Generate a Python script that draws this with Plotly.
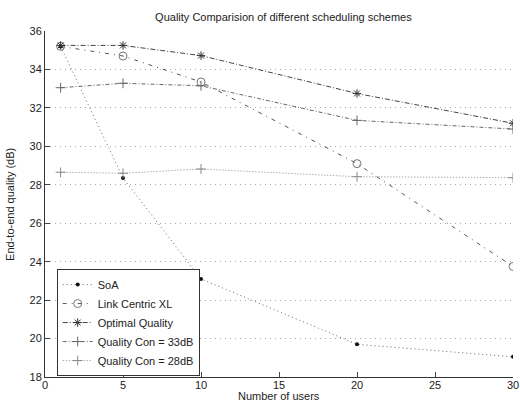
import plotly.graph_objects as go

users = [1, 5, 10, 20, 30]
soa = [35.2, 28.35, 23.1, 19.7, 19.05]
link_centric = [35.2, 34.7, 33.35, 29.1, 23.75]
optimal = [35.25, 35.25, 34.72, 32.75, 31.2]
qcon33 = [33.05, 33.28, 33.15, 31.35, 30.9]
qcon28 = [28.65, 28.6, 28.82, 28.42, 28.37]

series = [
    ("SoA", soa, dict(color="#666", width=1, dash="1px,3px"), dict(symbol="circle", size=4, color="#111")),
    ("Link Centric XL", link_centric, dict(color="#555", width=1, dash="4px,5px,1px,5px"),
     dict(symbol="circle-open", size=8, color="#777", line=dict(width=1))),
    ("Optimal Quality", optimal, dict(color="#444", width=1, dash="5px,2px,1px,2px"),
     dict(symbol="asterisk-open", size=7, color="#333", line=dict(width=1))),
    ("Quality Con = 33dB", qcon33, dict(color="#666", width=1, dash="4px,2px,1px,2px"),
     dict(symbol="cross-thin-open", size=7, color="#666", line=dict(width=1))),
    ("Quality Con = 28dB", qcon28, dict(color="#888", width=1, dash="1px,2px"),
     dict(symbol="cross-thin-open", size=7, color="#888", line=dict(width=1))),
]

fig = go.Figure()
for name, ys, ln, mk in series:
    fig.add_trace(go.Scatter(x=users, y=ys, name=name, mode="lines+markers", line=ln, marker=mk))

font = "Helvetica, Arial, 'Liberation Sans', sans-serif"
fig.update_layout(
    width=520, height=403,
    margin=dict(l=45, r=7, t=31, b=26, autoexpand=False),
    paper_bgcolor="white", plot_bgcolor="white",
    font=dict(family=font, size=11, color="#222"),
    title=dict(text="Quality Comparision of different scheduling schemes", x=0.545, xanchor="center",
               y=0.957, yanchor="middle", font=dict(size=11)),
    showlegend=True,
    legend=dict(x=0.025, y=0.312, xanchor="left", yanchor="top", bgcolor="white",
                bordercolor="#333", borderwidth=1, font=dict(size=11), tracegroupgap=0),
    annotations=[
        dict(text="Number of users", xref="paper", yref="paper", x=0.5, y=-0.054,
             xanchor="center", yanchor="middle", showarrow=False, font=dict(size=11)),
        dict(text="End-to-end quality (dB)", xref="paper", yref="paper", x=-0.075, y=0.5,
             xanchor="center", yanchor="middle", textangle=-90, showarrow=False, font=dict(size=11)),
    ],
)
fig.update_xaxes(range=[0, 30], tickvals=[0, 5, 10, 15, 20, 25, 30], ticks="inside", ticklen=5,
                 showline=True, linecolor="#333", linewidth=1, showgrid=False, zeroline=False,
                 automargin=False, tickfont=dict(size=11), ticklabelstandoff=-2)
fig.update_yaxes(range=[18, 36], tickvals=list(range(18, 37, 2)), ticks="inside", ticklen=5,
                 showline=True, linecolor="#333", linewidth=1, showgrid=True, gridcolor="#aaa",
                 griddash="1px,4px", gridwidth=1, zeroline=False, automargin=False,
                 tickfont=dict(size=11))
fig.write_html("out.html")
